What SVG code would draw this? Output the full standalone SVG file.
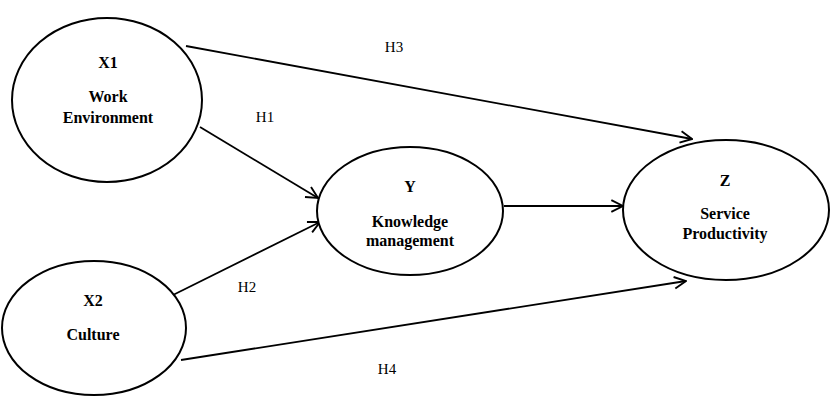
<svg xmlns="http://www.w3.org/2000/svg" width="836" height="401" viewBox="0 0 836 401">
<defs>
<marker id="arr" viewBox="0 0 12 12" refX="11" refY="6" markerWidth="14" markerHeight="14" markerUnits="userSpaceOnUse" orient="auto">
<path d="M1,1 L11,6 L1,11" fill="none" stroke="#000" stroke-width="1.6"/>
</marker>
<style>
.node ellipse{fill:#fff;stroke:#000;stroke-width:2}
.t{font-family:"Liberation Serif","Times New Roman",serif;font-weight:bold;font-size:16px;text-anchor:middle;fill:#000}
.h{font-family:"Liberation Serif","Times New Roman",serif;font-size:15px;text-anchor:middle;fill:#000}
.e{fill:none;stroke:#000;stroke-width:1.8;marker-end:url(#arr)}
</style>
</defs>
<rect width="836" height="401" fill="#fff"/>
<g id="connectors">
<line class="e" x1="186" y1="46" x2="692" y2="139"/>
<line class="e" x1="200" y1="127" x2="318" y2="198"/>
<line class="e" x1="171" y1="296" x2="320" y2="222"/>
<line class="e" x1="504" y1="206" x2="623" y2="206"/>
<path class="e" d="M181,360 Q430,320 686,281"/>
<text class="h" x="394" y="52">H3</text>
<text class="h" x="265" y="122">H1</text>
<text class="h" x="247" y="292">H2</text>
<text class="h" x="387" y="374">H4</text>
</g>
<g id="X1" class="node">
<ellipse cx="107" cy="100" rx="95" ry="82"/>
<text class="t" x="108" y="68">X1</text>
<text class="t" x="108" y="102">Work</text>
<text class="t" x="108" y="123">Environment</text>
</g>
<g id="X2" class="node">
<ellipse cx="94" cy="328" rx="92" ry="67"/>
<text class="t" x="93" y="306">X2</text>
<text class="t" x="93" y="340">Culture</text>
</g>
<g id="Y" class="node">
<ellipse cx="410" cy="211" rx="93" ry="64"/>
<text class="t" x="410" y="192">Y</text>
<text class="t" x="410" y="227">Knowledge</text>
<text class="t" x="410" y="246">management</text>
</g>
<g id="Z" class="node">
<ellipse cx="726" cy="210" rx="103" ry="70"/>
<text class="t" x="725" y="186">Z</text>
<text class="t" x="725" y="219">Service</text>
<text class="t" x="725" y="239">Productivity</text>
</g>
</svg>
